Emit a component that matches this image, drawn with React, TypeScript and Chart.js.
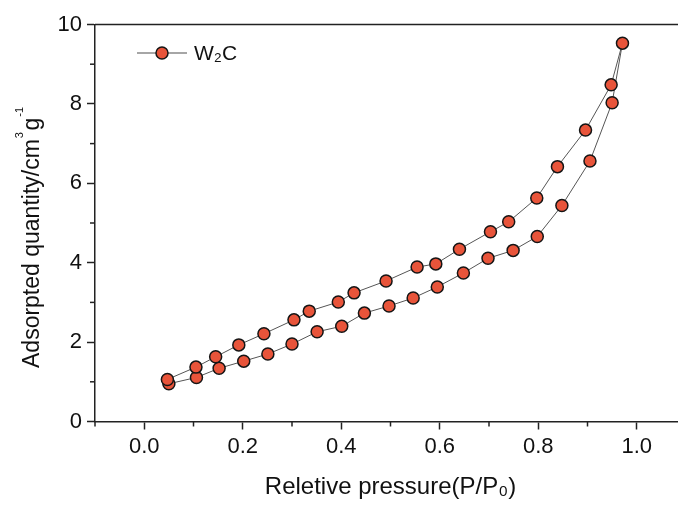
import React, { useEffect, useRef } from 'react';
import { Chart, registerables } from 'chart.js';

Chart.register(...registerables);

const seriesName = 'W₂C';
const xTitle = 'Reletive pressure(P/P₀)';
// y title pieces: main text, superscript, text, superscript
const yTitleParts = ['Adsorpted quantity/cm', '3', 'g', '-1'];

// adsorption branch (lower), increasing pressure
const adsorptionP = [0.05, 0.106, 0.152, 0.202, 0.251, 0.3, 0.351, 0.401, 0.447, 0.497, 0.546, 0.595, 0.648, 0.698, 0.749, 0.798, 0.848, 0.905, 0.95, 0.971];
const adsorptionQ = [0.95, 1.11, 1.34, 1.52, 1.7, 1.95, 2.26, 2.4, 2.73, 2.91, 3.11, 3.39, 3.74, 4.11, 4.31, 4.66, 5.44, 6.56, 8.03, 9.53];
// desorption branch (upper), decreasing pressure
const desorptionP = [0.948, 0.896, 0.839, 0.797, 0.74, 0.703, 0.64, 0.592, 0.554, 0.491, 0.426, 0.394, 0.335, 0.304, 0.243, 0.192, 0.145, 0.105, 0.047];
const desorptionQ = [8.48, 7.34, 6.42, 5.63, 5.03, 4.78, 4.34, 3.97, 3.89, 3.54, 3.24, 3.01, 2.78, 2.56, 2.21, 1.93, 1.63, 1.37, 1.06];

const xMin = -0.1, xMax = 1.1, xStep = 0.1;
const yMin = 0, yMax = 10, yStep = 1;

const FONT = 'Liberation Sans, Arial, sans-serif';
const AXIS = '#222';
const TEXT = '#111';
const FILL = '#E8543A';

const isMajorX = (v: number) => Math.round(v * 10) % 2 === 0;
const isMajorY = (v: number) => Math.round(v) % 2 === 0;

const framePlugin = {
  id: 'frame',
  afterDraw(chart: any) {
    const { ctx, chartArea, scales } = chart;
    ctx.save();
    ctx.strokeStyle = AXIS;
    ctx.lineWidth = 1.5;
    // top border
    ctx.beginPath();
    ctx.moveTo(chartArea.left, chartArea.top);
    ctx.lineTo(chartArea.right + 2, chartArea.top);
    ctx.stroke();
    // minor ticks
    scales.x.ticks.forEach((t: any) => {
      if (!isMajorX(t.value)) {
        const px = scales.x.getPixelForValue(t.value);
        ctx.beginPath();
        ctx.moveTo(px, chartArea.bottom);
        ctx.lineTo(px, chartArea.bottom + 5);
        ctx.stroke();
      }
    });
    scales.y.ticks.forEach((t: any) => {
      if (!isMajorY(t.value)) {
        const py = scales.y.getPixelForValue(t.value);
        ctx.beginPath();
        ctx.moveTo(chartArea.left, py);
        ctx.lineTo(chartArea.left - 5, py);
        ctx.stroke();
      }
    });

    // y-axis title with superscripts, rotated
    ctx.save();
    ctx.translate(39.3, 368);
    ctx.rotate(-Math.PI / 2);
    ctx.fillStyle = TEXT;
    ctx.textBaseline = 'alphabetic';
    ctx.textAlign = 'left';
    const big = `23px ${FONT}`;
    const small = `11px ${FONT}`;
    let x = 0;
    ctx.font = big;
    ctx.fillText(yTitleParts[0], x, 0);
    x += ctx.measureText(yTitleParts[0]).width + 1;
    ctx.font = small;
    ctx.fillText(yTitleParts[1], x, -16);
    x += ctx.measureText(yTitleParts[1]).width + 1.5;
    ctx.font = big;
    ctx.fillText(yTitleParts[2], x, 0);
    x += ctx.measureText(yTitleParts[2]).width + 1;
    ctx.font = small;
    ctx.fillText(yTitleParts[3], x, -16);
    ctx.restore();

    // legend
    const ds = chart.data.datasets[0];
    const lx = chartArea.left + 42;
    const ly = chartArea.top + 28.5;
    ctx.strokeStyle = '#888';
    ctx.lineWidth = 1.5;
    ctx.beginPath();
    ctx.moveTo(lx, ly);
    ctx.lineTo(lx + 50, ly);
    ctx.stroke();
    ctx.beginPath();
    ctx.arc(lx + 25, ly, ds.pointRadius, 0, Math.PI * 2);
    ctx.fillStyle = ds.pointBackgroundColor;
    ctx.fill();
    ctx.lineWidth = ds.pointBorderWidth;
    ctx.strokeStyle = ds.pointBorderColor;
    ctx.stroke();
    ctx.fillStyle = TEXT;
    ctx.font = `21px ${FONT}`;
    ctx.textBaseline = 'middle';
    ctx.textAlign = 'left';
    ctx.fillText(ds.label, lx + 57, ly + 1);
    ctx.restore();
  },
};

export default function App() {
  const ref = useRef<HTMLCanvasElement | null>(null);

  useEffect(() => {
    if (!ref.current) return;
    const points = [
      ...adsorptionP.map((p, i) => ({ x: p, y: adsorptionQ[i] })),
      ...desorptionP.map((p, i) => ({ x: p, y: desorptionQ[i] })),
    ];
    const chart = new Chart(ref.current, {
      type: 'line',
      data: {
        datasets: [
          {
            label: seriesName,
            data: points,
            borderColor: '#555',
            borderWidth: 1,
            pointRadius: 6,
            pointHoverRadius: 6,
            pointBackgroundColor: FILL,
            pointBorderColor: '#151515',
            pointBorderWidth: 1.5,
            tension: 0,
            fill: false,
          } as any,
        ],
      },
      options: {
        animation: false,
        responsive: false,
        maintainAspectRatio: false,
        layout: { padding: { top: 24.5, right: 34, left: 0, bottom: 0 } },
        plugins: { legend: { display: false }, tooltip: { enabled: false } },
        scales: {
          x: {
            type: 'linear',
            position: 'bottom',
            min: xMin,
            max: xMax,
            afterFit: (s: any) => { s.height = 83.5; },
            ticks: {
              stepSize: xStep,
              autoSkip: false,
              maxRotation: 0,
              padding: 4,
              color: TEXT,
              font: { family: FONT, size: 22 },
              callback: (v: any) => (isMajorX(Number(v)) ? Number(v).toFixed(1) : ''),
            },
            grid: {
              drawOnChartArea: false,
              drawTicks: true,
              tickLength: 8,
              tickWidth: 1.5,
              tickColor: (c: any) => (c.tick && isMajorX(c.tick.value) ? AXIS : 'rgba(0,0,0,0)'),
            },
            border: { display: true, color: AXIS, width: 1.5 },
            title: {
              display: true,
              text: xTitle,
              color: TEXT,
              font: { family: FONT, size: 24 },
              padding: { top: 0, bottom: 3 },
            },
          },
          y: {
            type: 'linear',
            position: 'left',
            min: yMin,
            max: yMax,
            afterFit: (s: any) => { s.width = 95; },
            ticks: {
              stepSize: yStep,
              autoSkip: false,
              padding: 5,
              color: TEXT,
              font: { family: FONT, size: 22 },
              callback: (v: any) => (isMajorY(Number(v)) ? String(Number(v)) : ''),
            },
            grid: {
              drawOnChartArea: false,
              drawTicks: true,
              tickLength: 8,
              tickWidth: 1.5,
              tickColor: (c: any) => (c.tick && isMajorY(c.tick.value) ? AXIS : 'rgba(0,0,0,0)'),
            },
            border: { display: true, color: AXIS, width: 1.5 },
            title: { display: false },
          },
        },
      },
      plugins: [framePlugin],
    });
    return () => chart.destroy();
  }, []);

  return (
    <div style={{ position: 'fixed', left: 0, top: 0, width: 720, height: 505, overflow: 'hidden' }}>
      <canvas ref={ref} width={720} height={505} style={{ display: 'block', width: 720, height: 505 }} />
    </div>
  );
}
